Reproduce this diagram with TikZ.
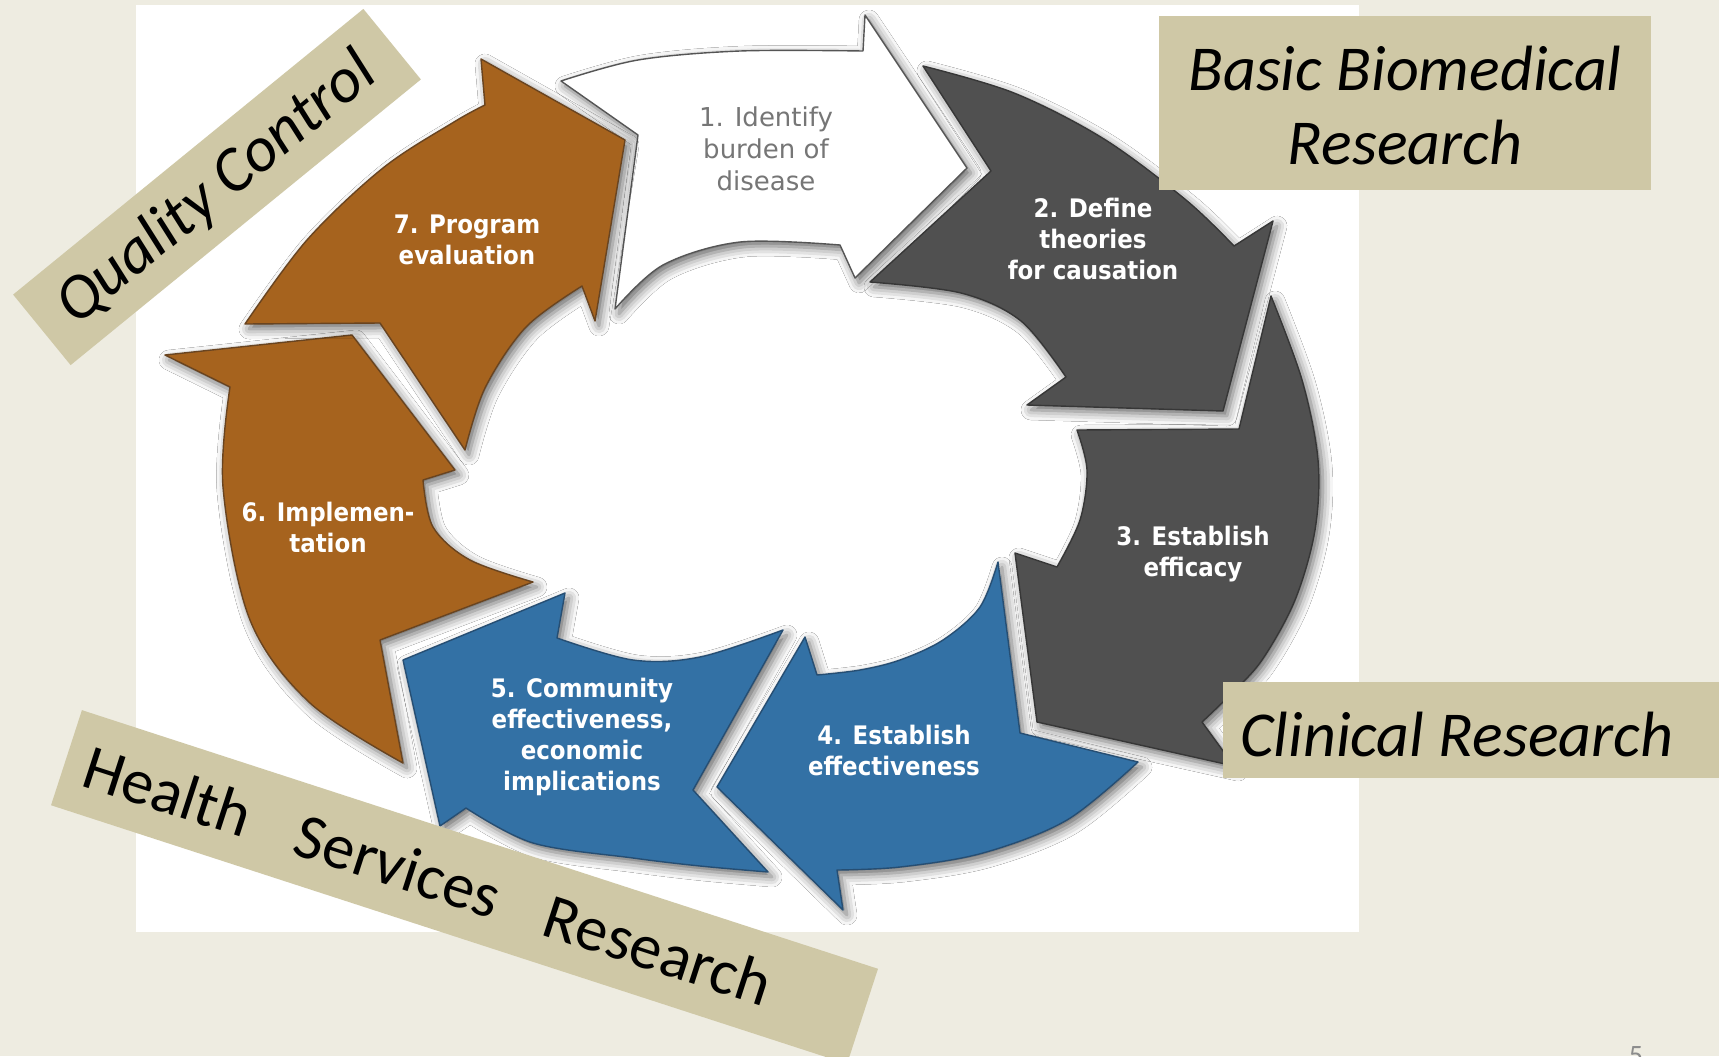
\documentclass[tikz,border=0pt]{standalone}
\usepackage{fontspec}
\setmainfont{Carlito}
\newfontfamily\lblfont{DejaVu Sans Condensed}
\newfontfamily\lblone{DejaVu Sans}
\usetikzlibrary{shadows.blur}
\definecolor{bgc}{RGB}{238,236,225}
\definecolor{boxc}{RGB}{207,200,166}
\definecolor{brownc}{RGB}{166,99,30}
\definecolor{brownd}{RGB}{105,68,32}
\definecolor{grayc}{RGB}{80,80,80}
\definecolor{grayd}{RGB}{55,55,55}
\definecolor{bluec}{RGB}{51,113,165}
\definecolor{blued}{RGB}{38,78,115}
\definecolor{wd}{RGB}{85,85,85}
\definecolor{txtone}{RGB}{118,118,118}
\definecolor{pgnum}{RGB}{140,140,140}
\begin{document}
\begin{tikzpicture}[x=0.5pt,y=-0.5pt,
  arr/.style={line width=0.7pt, line join=round,
    blur shadow={shadow xshift=2pt, shadow yshift=-2.5pt, shadow blur radius=5pt, shadow opacity=60}},
  brownarr/.style={arr, fill=brownc, draw=brownd},
  grayarr/.style={arr, fill=grayc, draw=grayd},
  bluearr/.style={arr, fill=bluec, draw=blued},
  whitearr/.style={arr, fill=white, draw=wd},
  lbl/.style={font=\lblfont\bfseries\fontsize{12.75pt}{15.5pt}\selectfont, text=white, align=center, inner sep=0pt},
  lblw/.style={font=\lblone\fontsize{13pt}{16pt}\selectfont, text=txtone, align=center, inner sep=0pt},
  tanbox/.style={fill=boxc, draw=none, inner sep=0pt},
  bigtxt/.style={font=\itshape\fontsize{32pt}{37pt}\selectfont, inner sep=0pt, text=black},
  bigup/.style={font=\fontsize{32pt}{37pt}\selectfont, inner sep=0pt, text=black}
]
\useasboundingbox (0,0) rectangle (1719,1056);
\clip (0,0) rectangle (1719,1056);
\fill[bgc] (0,0) rectangle (1719,1056);
\fill[white] (136,5) rectangle (1359,932);

% Arrow 1 (white)
\path[whitearr] plot[smooth, tension=0.55] coordinates {(561,81) (638,60) (740,51) (863,51)}
  -- (865,15) -- (967,168) -- (855,278) -- (840,245)
  -- plot[smooth, tension=0.55] coordinates {(840,245) (740,242) (663,265) (615,309)}
  -- (638,135) -- cycle;
% Arrow 2 (gray)
\path[grayarr] plot[smooth, tension=0.55] coordinates {(923,66) (1014,93) (1104,139) (1186,200) (1234,246)}
  -- (1273,221) -- (1223,411) -- (1027,405) -- (1066,377)
  -- plot[smooth, tension=0.55] coordinates {(1066,377) (1021,321) (961,293) (870,282)}
  -- (991,171) -- cycle;
% Arrow 3 (gray)
\path[grayarr] plot[smooth, tension=0.55] coordinates {(1271,296) (1302,380) (1318,460) (1315,530) (1295,600) (1262,660) (1230,695) (1202,722)}
  -- (1234,766) -- (1037,722) -- (1015,553) -- (1057,567)
  -- plot[smooth, tension=0.55] coordinates {(1057,567) (1080,520) (1087,470) (1077,430)}
  -- (1239,429) -- cycle;
% Arrow 4 (blue)
\path[bluearr] plot[smooth, tension=0.55] coordinates {(1138,762) (1067,820) (983,853) (900,867) (837,870)}
  -- (843,910) -- (717,787) -- (805,637) -- (817,675)
  -- plot[smooth, tension=0.55] coordinates {(817,675) (860,670) (900,660) (943,640) (980,607) (998,562)}
  -- (1020,733) -- cycle;
% Arrow 5 (blue)
\path[bluearr] plot[smooth, tension=0.55] coordinates {(768,872) (700,866) (633,858) (533,843) (466,808)}
  -- (440,826) -- (403,660) -- (565,593) -- (557,638)
  -- plot[smooth, tension=0.55] coordinates {(557,638) (633,660) (700,657) (783,630)}
  -- (693,790) -- cycle;
% Arrow 6 (brown)
\path[brownarr] plot[smooth, tension=0.55] coordinates {(403,763) (310,703) (250,620) (223,487) (230,387)}
  -- (165,355) -- (352,335) -- (455,470) -- (423,480)
  -- plot[smooth, tension=0.55] coordinates {(423,480) (433,527) (470,560) (533,582)}
  -- (380,640) -- cycle;
% Arrow 7 (brown)
\path[brownarr] plot[smooth, tension=0.55] coordinates {(245,324) (307,240) (383,168) (454,122) (485,105)}
  -- (481,59) -- (625,140) -- (595,321) -- (582,286)
  -- plot[smooth, tension=0.55] coordinates {(582,286) (526,327) (485,388) (465,450)}
  -- (380,323) -- cycle;

% Arrow labels
\node[lblw] (t1) at (766,149) {1. Identify\\burden of\\disease};
\node[lbl] (t2) at (1093,239) {2. Define\\theories\\for causation};
\node[lbl] (t3) at (1193,554) {3. Establish\\efficacy};
\node[lbl] (t4) at (894,750) {4. Establish\\effectiveness};
\node[lbl] (t5) at (582,737) {5. Community\\effectiveness,\\economic\\implications};
\node[lbl] (t6) at (328,527) {6. Implemen-\\tation};
\node[lbl] (t7) at (467,240) {7. Program\\evaluation};

% Tan label boxes
\node[tanbox, minimum width=246pt, minimum height=87pt] (bbrbox) at (1405,103) {};
\node[bigtxt, align=center] (bbr) at (1405,106) {Basic Biomedical\\Research};
\node[tanbox, minimum width=248pt, minimum height=48pt, anchor=north west] (crbox) at (1223,682) {};
\node[bigtxt, anchor=base west] (cr) at (1240,756) {Clinical Research};
\node[tanbox, minimum width=226pt, minimum height=45.5pt, rotate=39.2] (qcbox) at (217,187) {};
\node[bigtxt, rotate=39.2] (qc) at (217,189) {Quality Control};
\node[tanbox, minimum width=418.5pt, minimum height=50pt, rotate=-18] (hsbox) at (464.5,887) {};
\node[bigup, rotate=-18, anchor=west] (hs) at (86,764) {Health\hspace{25pt}Services\hspace{25pt}Research};

% page number
\node[font=\fontsize{14pt}{16pt}\selectfont, text=pgnum, anchor=north, inner sep=0pt] (pg) at (1636,1046) {5};
\end{tikzpicture}
\end{document}
